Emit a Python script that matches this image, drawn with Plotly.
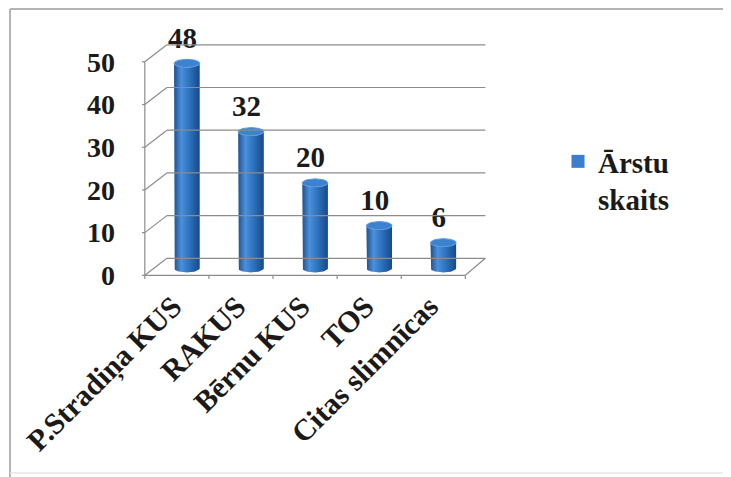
import numpy as np
import plotly.graph_objects as go

categories = ["P.Stradiņa KUS", "RAKUS", "Bērnu KUS", "TOS", "Citas slimnīcas"]
values = [48, 32, 20, 10, 6]
series_name = "Ārstu<br>skaits"
y_ticks = [0, 10, 20, 30, 40, 50]

FONT = "Liberation Serif, Times New Roman, serif"
BLUE_SCALE = [[0, "#1d5193"], [0.28, "#4b90da"], [0.6, "#2e71be"], [1, "#1a4885"]]
CAP = "#3d82cf"
GRID = "#8c8c8c"
TXT = "#1a1a1a"

OFF = 8  # page body margin
W, H = 731, 477
ML, MR, MT, MB = 142 - OFF, 238, 42 - OFF, 206
XR = [-0.7, 4.9]
YR = [-2.5, 53]

FRONT_DX, FRONT_DY = -0.656, -1.64
BACK_DX, BACK_DY = -0.3125, 2.34
BACK_RIGHT = 4.656
FRONT_RIGHT = 4.344

fig = go.Figure()

xpos = list(range(len(categories)))
hw = 0.2
e = 0.95

shapes = []
for v in y_ticks:
    shapes.append(dict(type="line", xref="x", yref="y", x0=BACK_DX, y0=v + BACK_DY,
                       x1=BACK_RIGHT, y1=v + BACK_DY, line=dict(color=GRID, width=1.2)))
    shapes.append(dict(type="line", xref="x", yref="y", x0=FRONT_DX, y0=v + FRONT_DY,
                       x1=BACK_DX, y1=v + BACK_DY, line=dict(color=GRID, width=1.2)))
    shapes.append(dict(type="line", xref="x", yref="y", x0=FRONT_DX - 0.07, y0=v + FRONT_DY,
                       x1=FRONT_DX, y1=v + FRONT_DY, line=dict(color=GRID, width=1.2)))
shapes.append(dict(type="line", xref="x", yref="y", x0=FRONT_DX, y0=FRONT_DY,
                   x1=FRONT_RIGHT, y1=FRONT_DY, line=dict(color=GRID, width=1.2)))
shapes.append(dict(type="line", xref="x", yref="y", x0=FRONT_RIGHT, y0=FRONT_DY,
                   x1=BACK_RIGHT, y1=BACK_DY, line=dict(color=GRID, width=1.2)))
shapes.append(dict(type="line", xref="x", yref="y", x0=FRONT_DX, y0=FRONT_DY,
                   x1=FRONT_DX, y1=y_ticks[-1] + FRONT_DY, line=dict(color=GRID, width=1.2)))
for k in range(len(categories) + 1):
    shapes.append(dict(type="line", xref="x", yref="y", x0=FRONT_DX + k, y0=FRONT_DY,
                       x1=FRONT_DX + k, y1=FRONT_DY - 1.3, line=dict(color=GRID, width=1.2)))

t = np.linspace(0, np.pi, 40)
for i, (c, v) in enumerate(zip(xpos, values)):
    bx = c + hw * np.cos(t[::-1])
    by = 0 - e * np.sin(t[::-1])
    tx = c + hw * np.cos(t)
    ty = v - e * np.sin(t)
    px = np.concatenate([[c - hw], bx, [c + hw], tx])
    py = np.concatenate([[v], by, [v], ty])
    fig.add_trace(go.Scatter(x=px, y=py, mode="lines", fill="toself",
                             line=dict(width=0, color="#1d5193"),
                             fillcolor="#2e71be",
                             fillgradient=dict(type="horizontal", colorscale=BLUE_SCALE),
                             showlegend=False, hoverinfo="skip"))
    tt = np.linspace(0, 2 * np.pi, 60)
    fig.add_trace(go.Scatter(x=c + hw * np.cos(tt), y=v + e * np.sin(tt), mode="lines",
                             fill="toself", fillcolor=CAP,
                             line=dict(width=1, color="#5a9be0"),
                             showlegend=False, hoverinfo="skip"))

fig.add_trace(go.Scatter(x=[c - 0.07 for c in xpos], y=[v + e + 1.0 for v in values], mode="text",
                         text=[str(v) for v in values], textposition="top center",
                         cliponaxis=False,
                         textfont=dict(family=FONT, size=29, color=TXT, weight="bold"),
                         showlegend=False, hoverinfo="skip"))

fig.add_trace(go.Scatter(x=[None], y=[None], mode="markers", name=series_name,
                         marker=dict(symbol="square", size=13, color="#3b7dd0")))

def pxx(p):
    return (p - OFF - ML) / (W - ML - MR)

def pxy(p):
    return (H - MB - (p - OFF)) / (H - MT - MB)

frame = dict(color="#b4b4b4", width=2)
shapes.append(dict(type="line", xref="paper", yref="paper", x0=pxx(10), y0=pxy(9),
                   x1=pxx(745), y1=pxy(9), line=frame))
shapes.append(dict(type="line", xref="paper", yref="paper", x0=pxx(10), y0=pxy(9),
                   x1=pxx(10), y1=pxy(490), line=frame))
shapes.append(dict(type="line", xref="paper", yref="paper", x0=pxx(10), y0=pxy(473),
                   x1=pxx(745), y1=pxy(473), line=dict(color="#e6e6e6", width=1.5)))

fig.update_layout(
    width=W, height=H, autosize=False,
    margin=dict(l=ML, r=MR, t=MT, b=MB),
    paper_bgcolor="white", plot_bgcolor="white",
    font=dict(family=FONT, color=TXT),
    shapes=shapes,
    showlegend=True,
    legend=dict(x=pxx(558), y=pxy(136), xanchor="left", yanchor="top",
                font=dict(family=FONT, size=29, color=TXT, weight="bold"),
                valign="top", bgcolor="rgba(0,0,0,0)"),
    xaxis=dict(range=XR, showgrid=False, zeroline=False, showline=False,
               tickmode="array", tickvals=xpos, ticktext=categories, tickangle=-45,
               ticklabelshift=-14, ticklabelstandoff=3,
               tickfont=dict(family=FONT, size=30, color=TXT, weight="bold")),
    yaxis=dict(range=YR, showgrid=False, zeroline=False, showline=False,
               tickmode="array", tickvals=[v + FRONT_DY for v in y_ticks],
               ticktext=[str(v) for v in y_ticks], ticklabelstandoff=26,
               tickfont=dict(family=FONT, size=28, color=TXT, weight="bold")),
)

fig.write_html("out.html")
